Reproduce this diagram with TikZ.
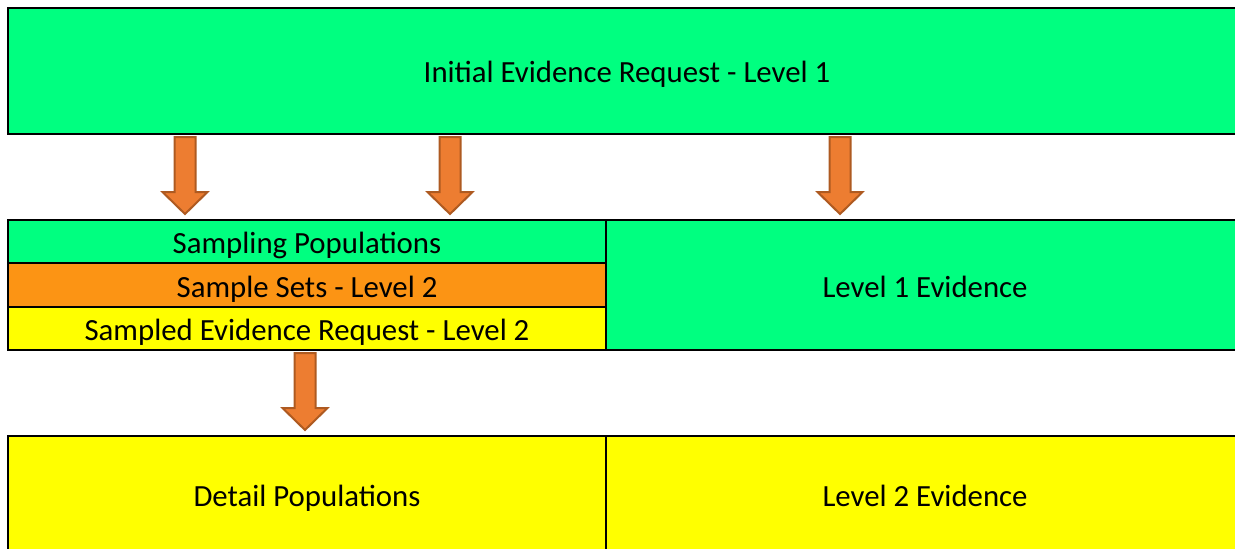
\documentclass[tikz,border=0pt]{standalone}
\usepackage{fontspec}
\setmainfont{Carlito}
\definecolor{evgreen}{RGB}{0,255,128}
\definecolor{evorange}{RGB}{252,148,20}
\definecolor{evyellow}{RGB}{255,255,0}
\definecolor{arrfill}{RGB}{237,125,49}
\definecolor{arrdraw}{RGB}{174,90,33}
\tikzset{
  evbox/.style={draw=black,line width=1pt},
  evtext/.style={font=\fontsize{15.4}{17}\selectfont,text=black,inner sep=0pt,anchor=base},
  bigarr/.style={fill=arrfill,draw=arrdraw,line width=1pt,line join=miter}
}
% block arrow: #1 = centre x, #2 = top y (px)
\newcommand\blockarr[2]{%
  \draw[bigarr] (#1-10.5,#2) -- (#1+10.5,#2) -- (#1+10.5,#2+55) -- (#1+22.5,#2+55)
    -- (#1,#2+77) -- (#1-22.5,#2+55) -- (#1-10.5,#2+55) -- cycle;}

\begin{document}
\begin{tikzpicture}[x=0.5pt,y=-0.5pt]
\useasboundingbox (0,0) rectangle (1235,548);

% boxes
\draw[evbox,fill=evgreen] (8,8) rectangle (1245,134);
\draw[evbox,fill=evgreen] (8,220) rectangle (606,263);
\draw[evbox,fill=evorange] (8,263) rectangle (606,307);
\draw[evbox,fill=evyellow] (8,307) rectangle (606,350);
\draw[evbox,fill=evgreen] (606,220) rectangle (1245,350);
\draw[evbox,fill=evyellow] (8,436) rectangle (606,560);
\draw[evbox,fill=evyellow] (606,436) rectangle (1245,560);

% labels (at baselines)
\node[evtext] (req1) at (627,82) {Initial Evidence Request - Level 1};
\node[evtext] (pop) at (307,253) {Sampling Populations};
\node[evtext] (sets) at (307,297) {Sample Sets - Level 2};
\node[evtext] (req2) at (307,340) {Sampled Evidence Request - Level 2};
\node[evtext] (ev1) at (925,297) {Level 1 Evidence};
\node[evtext] (det) at (307,506) {Detail Populations};
\node[evtext] (ev2) at (925,506) {Level 2 Evidence};

% arrows
\blockarr{185}{137}
\blockarr{450}{137}
\blockarr{840}{137}
\blockarr{305}{353}
\end{tikzpicture}
\end{document}
